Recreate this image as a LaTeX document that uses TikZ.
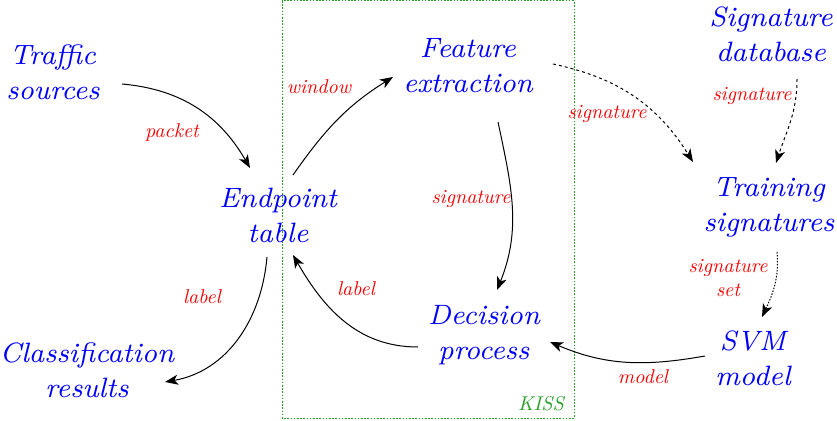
\documentclass[tikz,border=0pt]{standalone}
\usetikzlibrary{arrows.meta}
\definecolor{kissgreen}{RGB}{40,160,40}
\tikzset{
  main/.style={inner sep=0pt, align=center, text=blue, scale=3.5, font=\fontsize{8}{10}\selectfont\itshape},
  lbl/.style={inner sep=0pt, align=center, text=red, scale=2.0, font=\fontsize{10}{12}\selectfont\itshape},
  conn/.style={line width=1pt, -{Stealth[length=13pt,width=10pt,inset=3.5pt]}},
  dash1/.style={dash pattern=on 3pt off 3pt},
  dot1/.style={dash pattern=on 1.5pt off 1.5pt},
}
\begin{document}
\begin{tikzpicture}[x=1pt,y=1pt]
\useasboundingbox (0,0) rectangle (837,-420);
% KISS box
\draw[kissgreen, line width=1pt, dash pattern=on 1.6pt off 1.6pt] (282,-1) rectangle (574,-418);
\node[lbl, anchor=base, text=kissgreen] (kiss) at (541,-410) {KISS};
% nodes
\node[main] (ts) at (53,-72) {Traffic\\sources};
\node[main] (et) at (278,-215) {Endpoint\\table};
\node[main] (fe) at (468,-66) {Feature\\extraction};
\node[main] (sd) at (771,-34) {Signature\\database};
\node[main] (tsig) at (769,-207) {Training\\signatures};
\node[main] (svm) at (753,-358) {SVM\\model};
\node[main] (dp) at (484,-335) {Decision\\process};
\node[main] (cr) at (87,-370) {Classification\\results};
% labels
\node[lbl, anchor=base] (l1) at (172,-137) {packet};
\node[lbl, anchor=base] (l2) at (319,-93) {window};
\node[lbl, anchor=base] (l3) at (607,-118) {signature};
\node[lbl, anchor=base] (l4) at (752,-100) {signature};
\node[lbl, anchor=base] (l5) at (471,-203) {signature};
\node[lbl] (l6) at (728,-278) {signature\\set};
\node[lbl, anchor=base] (l7) at (643,-383) {model};
\node[lbl, anchor=base] (l8) at (356,-295) {label};
\node[lbl, anchor=base] (l9) at (202,-303) {label};
% connectors
\draw[conn] ([shift={(69,-12)}]ts.center) to[out=-5, in=120] ([shift={(-28,47)}]et.center);
\draw[conn] ([shift={(15,40)}]et.center) to[out=55, in=212] ([shift={(-75,-11)}]fe.center);
\draw[conn, dash1] ([shift={(85,2)}]fe.center) to[out=-12, in=122] ([shift={(-76,45)}]tsig.center);
\draw[conn, dash1] ([shift={(26,-45)}]sd.center) to[out=-90, in=72] ([shift={(7,44)}]tsig.center);
\draw[conn] ([shift={(30,-56)}]fe.center) to[out=-78, in=68] ([shift={(13,45)}]dp.center);
\draw[conn] ([shift={(-48,2)}]svm.center) to[out=190, in=-23] ([shift={(66,-7)}]dp.center);
\draw[conn, dot1] ([shift={(8,-45)}]tsig.center) to[out=-85, in=65] ([shift={(9,41)}]svm.center);
\draw[conn] ([shift={(-66,-12)}]dp.center) to[out=180, in=-60] ([shift={(15,-40)}]et.center);
\draw[conn] ([shift={(-11,-42)}]et.center) to[out=-95, in=10] ([shift={(78,-12)}]cr.center);
\end{tikzpicture}
\end{document}
